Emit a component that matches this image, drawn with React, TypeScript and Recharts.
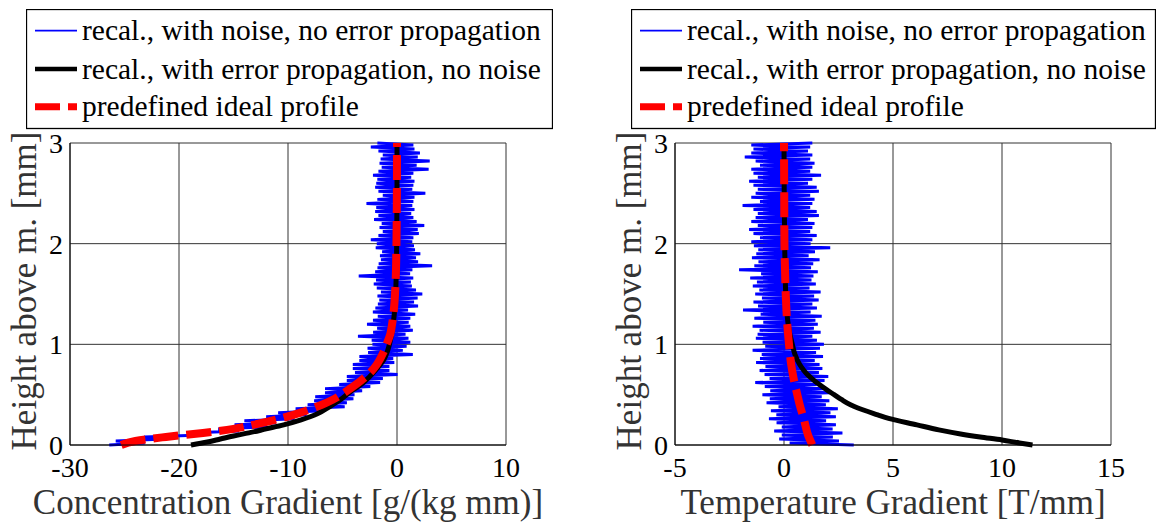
import React from "react"
import { LineChart, Line, XAxis, YAxis, CartesianGrid, Label } from "recharts"

const FONT = '"Liberation Serif", "Times New Roman", serif'

// heights [mm] of the noisy recalculated samples (both panels)
const sampleHeights = [
  0, 0.02, 0.04, 0.06, 0.08, 0.1, 0.12, 0.14, 0.16, 0.18,
  0.2, 0.22, 0.24, 0.26, 0.28, 0.3, 0.32, 0.34, 0.36, 0.38,
  0.4, 0.42, 0.44, 0.46, 0.48, 0.5, 0.52, 0.54, 0.56, 0.58,
  0.6, 0.62, 0.64, 0.66, 0.68, 0.7, 0.72, 0.74, 0.76, 0.78,
  0.8, 0.82, 0.84, 0.86, 0.88, 0.9, 0.92, 0.94, 0.96, 0.98,
  1, 1.02, 1.04, 1.06, 1.08, 1.1, 1.12, 1.14, 1.16, 1.18,
  1.2, 1.22, 1.24, 1.26, 1.28, 1.3, 1.32, 1.34, 1.36, 1.38,
  1.4, 1.42, 1.44, 1.46, 1.48, 1.5, 1.52, 1.54, 1.56, 1.58,
  1.6, 1.62, 1.64, 1.66, 1.68, 1.7, 1.72, 1.74, 1.76, 1.78,
  1.8, 1.82, 1.84, 1.86, 1.88, 1.9, 1.92, 1.94, 1.96, 1.98,
  2, 2.02, 2.04, 2.06, 2.08, 2.1, 2.12, 2.14, 2.16, 2.18,
  2.2, 2.22, 2.24, 2.26, 2.28, 2.3, 2.32, 2.34, 2.36, 2.38,
  2.4, 2.42, 2.44, 2.46, 2.48, 2.5, 2.52, 2.54, 2.56, 2.58,
  2.6, 2.62, 2.64, 2.66, 2.68, 2.7, 2.72, 2.74, 2.76, 2.78,
  2.8, 2.82, 2.84, 2.86, 2.88, 2.9, 2.92, 2.94, 2.96, 2.98,
  3,
]

// concentration gradient [g/(kg mm)]
const concNoisy = [
  -26.4, -23.15, -25.8, -21.3, -23.2, -17.9, -19.0, -14.5, -16.4, -11.9,
  -14.9, -11.1, -14.0, -9.4, -12.0, -8.3, -10.9, -6.8, -9.3, -4.8,
  -8.2, -4.6, -7.6, -4.0, -7.5, -3.9, -6.6, -3.2, -6.6, -2.45,
  -5.3, -1.55, -4.6, -1.3, -4.6, 0.05, -3.85, -0.7, -4.05, -0.7,
  -4.05, -0.25, -3.45, -0.35, -3.45, 1.45, -2.65, 0.53, -2.7, 0.88,
  -2.25, 1.22, -2.32, 1.05, -3.58, 0.78, -2.19, 1.45, -1.82, 1.22,
  -2.75, 1.07, -2.2, 1.22, -1.76, 1.67, -2.21, 1.01, -1.98, 1.93,
  -1.75, 1.56, -1.62, 1.89, -1.79, 2.32, -1.47, 1.74, -1.85, 1.36,
  -2.13, 1.27, -1.92, 1.49, -3.51, 1.2, -2.0, 1.41, -1.79, 3.22,
  -1.68, 1.93, -1.47, 1.74, -1.56, 2.14, -1.36, 1.65, -1.95, 1.55,
  -1.85, 1.4, -2.4, 1.5, -1.7, 2.0, -1.3, 1.9, -1.6, 2.5,
  -1.4, 1.8, -2.1, 1.5, -1.7, 1.3, -2.0, 1.6, -1.9, 1.4,
  -2.8, 1.5, -1.8, 1.6, -1.3, 2.6, -1.7, 1.4, -2.0, 1.5,
  -1.9, 1.6, -1.8, 1.3, -2.2, 1.5, -1.7, 2.9, -1.4, 1.8,
  -1.6, 3.0, -1.5, 1.9, -1.3, 2.1, -1.7, 1.6, -2.4, 1.5,
  -1.8,
]
const concErrHeights = [0, 0.03, 0.06, 0.09, 0.12, 0.16, 0.2, 0.25, 0.31, 0.38, 0.45, 0.53, 0.6, 0.68, 0.76, 0.85, 0.94, 1.04, 1.15, 1.3, 1.5, 1.75, 2, 2.5, 3]
const concErr = [-18.9, -17.4, -16.2, -15.0, -13.6, -12.0, -10.4, -8.8, -7.3, -6.2, -5.2, -4.27, -3.3, -2.5, -1.83, -1.2, -0.85, -0.61, -0.42, -0.25, -0.13, -0.06, -0.03, 0, 0]
const concIdealHeights = [0, 0.04, 0.08, 0.12, 0.16, 0.2, 0.25, 0.3, 0.35, 0.4, 0.45, 0.5, 0.56, 0.64, 0.72, 0.8, 0.92, 1, 1.1, 1.2, 1.33, 1.5, 1.75, 2, 2.5, 3]
const concIdeal = [-25.3, -24.0, -21.2, -17.8, -15.0, -13.2, -11.2, -9.5, -8.1, -6.9, -5.9, -5.1, -4.3, -3.3, -2.45, -1.85, -1.25, -0.95, -0.62, -0.45, -0.3, -0.18, -0.09, -0.05, -0.01, 0]

// temperature gradient [T/mm]
const tempNoisy = [
  3.2, 0.26, 2.52, -0.22, 2.24, -0.1, 2.68, -0.45, 2.23, -0.1,
  2.38, -0.34, 1.93, -0.69, 2.38, -0.35, 2.13, -0.6, 2.47, -0.25,
  1.92, -0.8, 2.08, -0.65, 1.73, -0.99, 2.09, -0.63, 1.85, -0.88,
  1.5, -1.32, 1.86, -0.66, 2.03, -0.89, 1.6, -1.12, 1.76, -0.85,
  1.63, -1.28, 1.41, -1.1, 1.79, -1.02, 1.47, -1.44, 1.65, -0.86,
  1.83, -0.98, 1.51, -1.29, 1.3, -1.21, 1.68, -1.12, 1.37, -1.44,
  1.55, -0.95, 1.44, -1.36, 1.73, -1.07, 1.22, -1.88, 1.51, -1.19,
  1.3, -1.4, 1.59, -1.01, 1.38, -1.32, 1.68, -1.13, 1.17, -1.43,
  1.46, -1.24, 1.26, -1.55, 1.35, -1.05, 1.55, -2.06, 1.24, -1.36,
  1.34, -1.17, 1.63, -1.47, 1.13, -1.27, 1.42, -1.18, 2.12, -1.38,
  1.22, -1.5, 1.3, -1.1, 1.5, -1.4, 1.2, -1.6, 1.3, -1.2,
  1.4, -1.5, 1.1, -1.3, 1.6, -1.2, 1.5, -1.4, 1.2, -1.9,
  1.3, -1.1, 1.4, -1.5, 1.2, -1.3, 1.6, -1.2, 1.5, -1.4,
  1.1, -1.6, 1.3, -1.2, 1.7, -1.4, 1.2, -1.5, 1.3, -1.1,
  1.4, -1.3, 1.2, -1.8, 1.3, -1.5, 1.1, -1.4, 1.2, -1.5,
  1.3,
]
const tempErrHeights = [0, 0.02, 0.05, 0.08, 0.11, 0.15, 0.2, 0.265, 0.3, 0.37, 0.4, 0.45, 0.5, 0.55, 0.6, 0.65, 0.7, 0.75, 0.8, 0.9, 1, 1.1, 1.2, 1.35, 1.5, 1.75, 2, 2.5, 3]
const tempErr = [11.4, 10.8, 10.0, 9.0, 8.1, 7.1, 6.1, 4.8, 4.3, 3.36, 3.05, 2.65, 2.3, 1.95, 1.62, 1.33, 1.07, 0.88, 0.72, 0.5, 0.38, 0.27, 0.19, 0.12, 0.08, 0.05, 0.03, 0.01, 0]
const tempIdealHeights = [0, 0.1, 0.25, 0.4, 0.5, 0.65, 0.8, 1, 1.2, 1.5, 1.8, 2, 2.5, 3]
const tempIdeal = [1.3, 1.1, 0.92, 0.72, 0.61, 0.45, 0.33, 0.23, 0.15, 0.08, 0.04, 0.02, 0.01, 0]

const concTicks = [-30, -20, -10, 0, 10]
const tempTicks = [-5, 0, 5, 10, 15]
const heightTicks = [0, 1, 2, 3]

const legendLabels = [
  "recal., with noise, no error propagation",
  "recal., with error propagation, no noise",
  "predefined ideal profile",
]

const toPoints = (hs: number[], xs: number[]) => hs.map((h, i) => ({ h, x: xs[i] }))

const tickStyle = { fontFamily: FONT, fontSize: 28, fill: "#000" }

function LegendBox({ left, width }: { left: number; width: number }) {
  const rows = [21.7, 60, 97.7]
  return (
    <svg style={{ position: "absolute", left, top: 9 }} width={width + 1} height={121}>
      <rect x={0.5} y={0.5} width={width} height={119} fill="#fff" stroke="#000" strokeWidth={1.3} />
      <line x1={9} x2={51} y1={rows[0]} y2={rows[0]} stroke="#0000ff" strokeWidth={1.8} />
      <line x1={9} x2={51} y1={rows[1]} y2={rows[1]} stroke="#000" strokeWidth={4.5} />
      <line x1={9} x2={51} y1={rows[2]} y2={rows[2]} stroke="#ff0000" strokeWidth={7} strokeDasharray="25 8" />
      {legendLabels.map((t, i) => (
        <text key={t} x={56} y={rows[i] + 9.5} fontFamily={FONT} fontSize={29.5} fill="#000">
          {t}
        </text>
      ))}
    </svg>
  )
}

interface PanelProps {
  left: number
  width: number
  marginRight: number
  domain: [number, number]
  ticks: number[]
  title: string
  noisy: number[]
  errH: number[]
  err: number[]
  idealH: number[]
  ideal: number[]
}

function Panel({ left, width, marginRight, domain, ticks, title, noisy, errH, err, idealH, ideal }: PanelProps) {
  return (
    <div style={{ position: "absolute", left, top: 0 }}>
      <LineChart width={width} height={522} margin={{ top: 143, right: marginRight, bottom: 0, left: 0 }}>
        <CartesianGrid stroke="#333" strokeWidth={1} />
        <XAxis
          type="number"
          dataKey="x"
          domain={domain}
          ticks={ticks}
          interval={0}
          allowDataOverflow
          height={77}
          tickLine={false}
          tickMargin={6}
          axisLine={{ stroke: "#000" }}
          tick={tickStyle}
        >
          <Label
            content={(p: any) => (
              <text
                x={p.viewBox.x + p.viewBox.width / 2}
                y={p.viewBox.y + 69}
                textAnchor="middle"
                fontFamily={FONT}
                fontSize={35}
                fill="#333"
              >
                {title}
              </text>
            )}
          />
        </XAxis>
        <YAxis
          type="number"
          dataKey="h"
          domain={[0, 3]}
          ticks={heightTicks}
          interval={0}
          width={70}
          tickLine={false}
          tickMargin={1}
          axisLine={{ stroke: "#000" }}
          tick={tickStyle}
        >
          <Label
            content={(p: any) => {
              const cx = p.viewBox.x + 36
              const cy = p.viewBox.y + p.viewBox.height / 2 - 3
              return (
                <text
                  x={cx}
                  y={cy}
                  transform={`rotate(-90 ${cx} ${cy})`}
                  textAnchor="middle"
                  fontFamily={FONT}
                  fontSize={35}
                  fill="#333"
                >
                  Height above m. [mm]
                </text>
              )
            }}
          />
        </YAxis>
        <Line
          data={toPoints(sampleHeights, noisy)}
          dataKey="h"
          type="linear"
          stroke="#0000ff"
          strokeWidth={3}
          dot={false}
          isAnimationActive={false}
        />
        <Line
          data={toPoints(errH, err)}
          dataKey="h"
          type="monotoneY"
          stroke="#000"
          strokeWidth={5}
          dot={false}
          isAnimationActive={false}
        />
        <Line
          data={toPoints(idealH, ideal)}
          dataKey="h"
          type="monotoneY"
          stroke="#ff0000"
          strokeWidth={8}
          strokeDasharray="25 8"
          dot={false}
          isAnimationActive={false}
        />
      </LineChart>
    </div>
  )
}

export default function App() {
  return (
    <div style={{ position: "absolute", left: 0, top: 0, width: 1156, height: 522, background: "#fff", overflow: "hidden" }}>
      <Panel
        left={0}
        width={580}
        marginRight={74}
        domain={[-30, 10]}
        ticks={concTicks}
        title="Concentration Gradient [g/(kg mm)]"
        noisy={concNoisy}
        errH={concErrHeights}
        err={concErr}
        idealH={concIdealHeights}
        ideal={concIdeal}
      />
      <Panel
        left={605}
        width={551}
        marginRight={45}
        domain={[-5, 15]}
        ticks={tempTicks}
        title="Temperature Gradient [T/mm]"
        noisy={tempNoisy}
        errH={tempErrHeights}
        err={tempErr}
        idealH={tempIdealHeights}
        ideal={tempIdeal}
      />
      <LegendBox left={26} width={526} />
      <LegendBox left={631} width={524} />
    </div>
  )
}
